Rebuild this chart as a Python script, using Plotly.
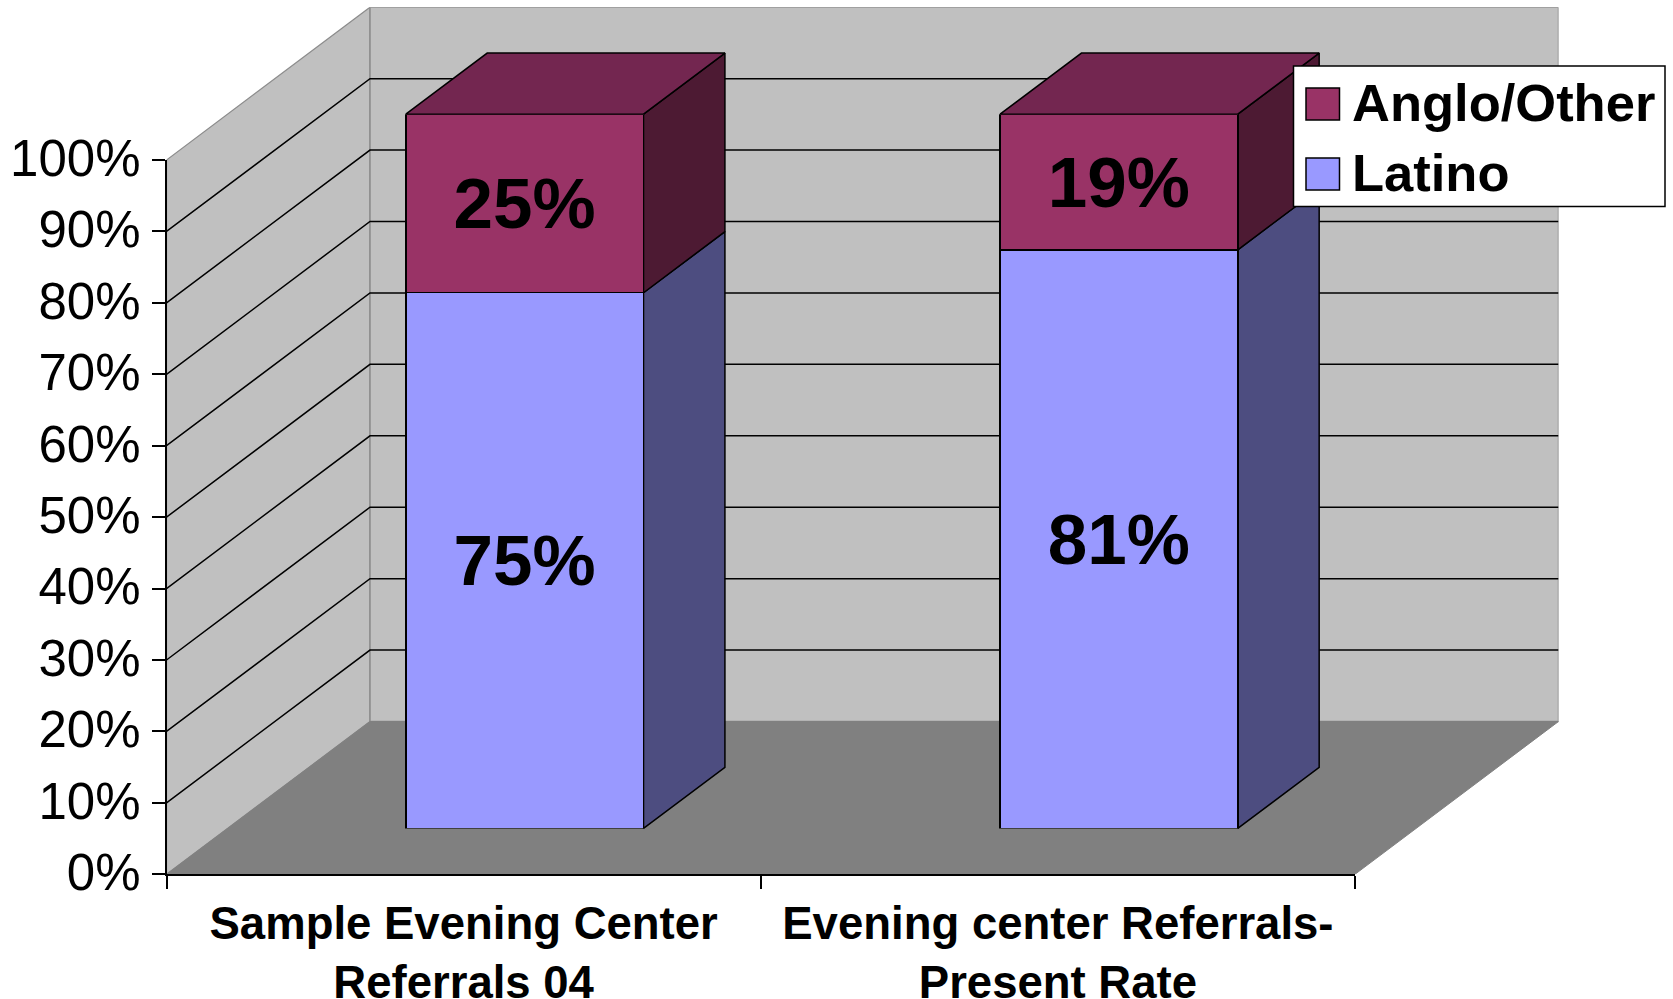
import plotly.graph_objects as go

categories = ["Sample Evening Center<br>Referrals 04", "Evening center Referrals-<br>Present Rate"]
latino = [75, 81]
anglo = [25, 19]
y_ticks = [0, 10, 20, 30, 40, 50, 60, 70, 80, 90, 100]

W, H = 1673, 999
AX_L, AX_R, AX_B, AX_T = 166.5, 1355.0, 874.3, 160.0
DEPTH_X, DEPTH_Y = 203.5, 152.8
BAR_D0, BAR_D1 = 0.30, 0.70
BAR_WIDTH = 0.40

BAND = (AX_R - AX_L) / 2
PCT = (AX_B - AX_T) / 100
DX = DEPTH_X / BAND
DY = DEPTH_Y / PCT

C_LAT, C_LAT_SIDE = "#9999FF", "#4D4D80"
C_ANG, C_ANG_SIDE, C_ANG_TOP = "#993366", "#4D1A33", "#732650"
C_WALL, C_FLOOR, C_EDGE = "#C0C0C0", "#808080", "#8C8C8C"


def dom_x(a, b):
    return [a / W, b / W]


def dom_y(bottom, top):
    return [1 - bottom / H, 1 - top / H]


def proj(cat, pct, depth):
    return cat + depth * DX, pct + depth * DY


def poly(points, fill, line, lw=1.5):
    xs, ys = zip(*[proj(*p) for p in points + points[:1]])
    return go.Scatter(x=xs, y=ys, mode="lines", fill="toself", fillcolor=fill,
                      line=dict(color=line, width=lw), hoverinfo="skip",
                      showlegend=False, xaxis="x", yaxis="y")


def seg(points, color, lw=1.5):
    xs, ys = zip(*[proj(*p) for p in points])
    return go.Scatter(x=xs, y=ys, mode="lines", line=dict(color=color, width=lw),
                      hoverinfo="skip", showlegend=False, xaxis="x", yaxis="y")


fig = go.Figure()
L, R = -0.5, 1.5

# walls and floor
fig.add_trace(poly([(L, 0, 0), (L, 100, 0), (L, 100, 1), (L, 0, 1)], C_WALL, C_EDGE, 1.2))
fig.add_trace(poly([(L, 0, 1), (L, 100, 1), (R, 100, 1), (R, 0, 1)], C_WALL, C_EDGE, 1.5))
fig.add_trace(poly([(L, 0, 0), (R, 0, 0), (R, 0, 1), (L, 0, 1)], C_FLOOR, C_FLOOR, 1))

# gridlines on both walls
for t in y_ticks[1:-1]:
    fig.add_trace(seg([(L, t, 0), (L, t, 1), (R, t, 1)], "#000000"))

# side and top faces of the bars
for i, (a, b) in enumerate(zip(latino, anglo)):
    xr = i + BAR_WIDTH / 2
    xl = i - BAR_WIDTH / 2
    fig.add_trace(poly([(xr, 0, BAR_D0), (xr, a, BAR_D0), (xr, a, BAR_D1), (xr, 0, BAR_D1)], C_LAT_SIDE, "#000000"))
    fig.add_trace(poly([(xr, a, BAR_D0), (xr, a + b, BAR_D0), (xr, a + b, BAR_D1), (xr, a, BAR_D1)], C_ANG_SIDE, "#000000"))
    fig.add_trace(poly([(xl, a + b, BAR_D0), (xr, a + b, BAR_D0), (xr, a + b, BAR_D1), (xl, a + b, BAR_D1)], C_ANG_TOP, "#000000"))

# front faces of the bars
label_font = dict(family="Liberation Sans", size=71, color="#000000", weight="bold")
for name, vals, col in [("Latino", latino, C_LAT), ("Anglo/Other", anglo, C_ANG)]:
    fig.add_trace(go.Bar(x=categories, y=vals, name=name, xaxis="x2", yaxis="y2",
                         marker=dict(color=col, line=dict(color="#000000", width=1.5)),
                         text=[f"{v}%" for v in vals], textposition="inside",
                         insidetextanchor="middle", textangle=0, constraintext="none",
                         insidetextfont=label_font, showlegend=False))

# axis carrier
fig.add_trace(go.Scatter(x=categories, y=[None, None], mode="markers", xaxis="x3", yaxis="y3",
                         showlegend=False, hoverinfo="skip"))

off_x = BAR_D0 * DEPTH_X
off_y = BAR_D0 * DEPTH_Y
hidden = dict(visible=False, showgrid=False, zeroline=False, fixedrange=True, automargin=False)
tick_font_y = dict(family="Liberation Sans", size=51, color="#000000")
tick_font_x = dict(family="Liberation Sans", size=45.5, color="#000000", weight="bold")

fig.update_layout(
    width=W, height=H, autosize=False, margin=dict(l=0, r=0, t=0, b=0),
    paper_bgcolor="#FFFFFF", plot_bgcolor="rgba(0,0,0,0)", showlegend=False,
    barmode="stack", bargap=1 - BAR_WIDTH,
    xaxis=dict(hidden, domain=dom_x(AX_L, AX_L + (R - L) * BAND + DEPTH_X), range=[L, R + DX], anchor="y"),
    yaxis=dict(hidden, domain=dom_y(AX_B, AX_T - DEPTH_Y), range=[0, 100 + DY], anchor="x"),
    xaxis2=dict(hidden, type="category", categoryorder="array", categoryarray=categories,
                domain=dom_x(AX_L + off_x, AX_R + off_x), range=[L, R], anchor="y2"),
    yaxis2=dict(hidden, domain=dom_y(AX_B - off_y, AX_T - off_y), range=[0, 100], anchor="x2"),
    xaxis3=dict(type="category", categoryorder="array", categoryarray=categories,
                domain=dom_x(AX_L, AX_R), range=[L, R], anchor="y3", tickson="boundaries",
                ticks="outside", ticklen=13, tickwidth=1.5, tickcolor="#000000",
                showline=True, linecolor="#000000", linewidth=1.5, showgrid=False, automargin=False,
                tickfont=tick_font_x, tickangle=0, ticklabelstandoff=8, fixedrange=True),
    yaxis3=dict(domain=dom_y(AX_B, AX_T), range=[0, 100], anchor="x3", tickmode="array",
                tickvals=y_ticks, ticktext=[f"{t}%" for t in y_ticks],
                ticks="outside", ticklen=13, tickwidth=1.5, tickcolor="#000000",
                showline=True, linecolor="#000000", linewidth=1.5, showgrid=False, zeroline=False,
                automargin=False, tickfont=tick_font_y, ticklabelstandoff=1, ticklabelshift=-2,
                fixedrange=True),
)

# legend box
def rect(x0, y0, x1, y1, fill):
    fig.add_shape(type="rect", xref="paper", yref="paper", x0=x0 / W, x1=x1 / W,
                  y0=1 - y1 / H, y1=1 - y0 / H, fillcolor=fill,
                  line=dict(color="#000000", width=1.5), layer="above")


rect(1293.5, 66, 1665, 206.5, "#FFFFFF")
for (name, col, top) in [("Anglo/Other", C_ANG, 88), ("Latino", C_LAT, 158)]:
    rect(1306, top, 1339.5, top + 32, col)
    fig.add_annotation(xref="paper", yref="paper", x=1351 / W, y=1 - (top + 14) / H,
                       xanchor="left", yanchor="middle", showarrow=False, text=name,
                       font=dict(family="Liberation Sans", size=52.5, color="#000000", weight="bold"),
                       borderpad=0)

fig.write_html("out.html", config={"displayModeBar": False},
               post_script="document.body.style.margin='0';")
